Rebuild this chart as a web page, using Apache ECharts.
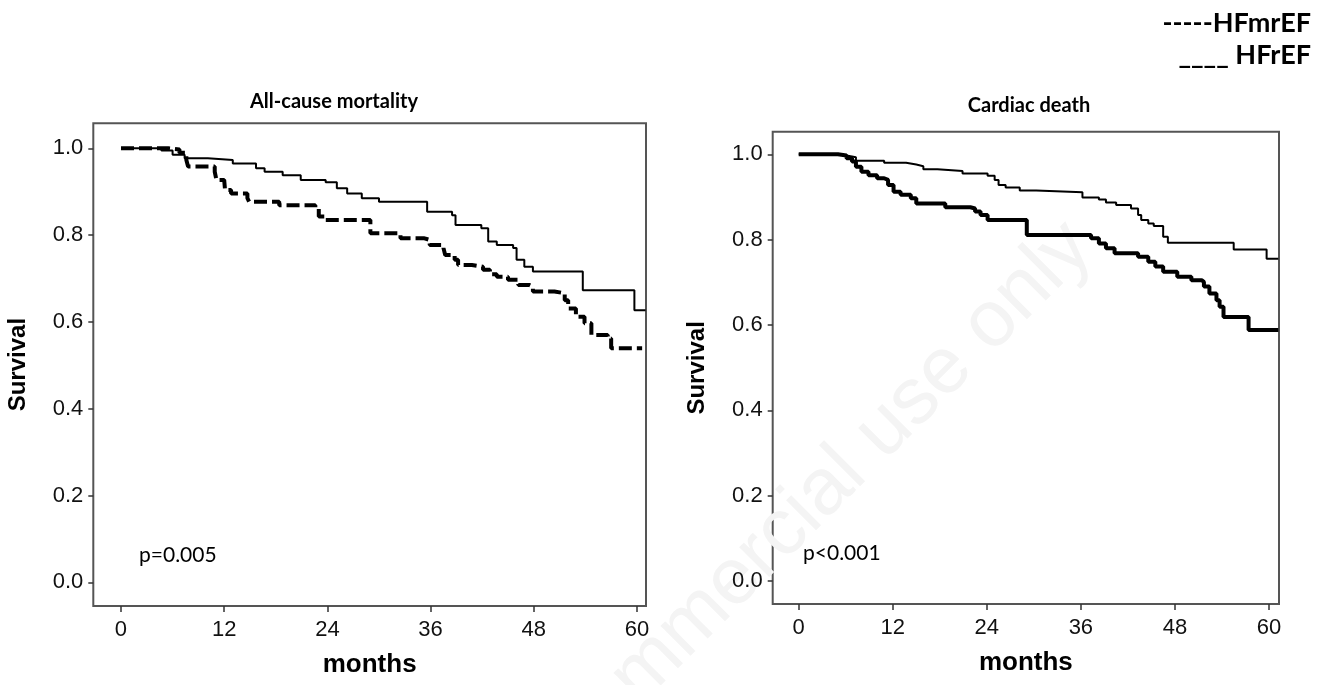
<!DOCTYPE html>
<html><head><meta charset="utf-8">
<script src="https://cdn.jsdelivr.net/npm/echarts@6/dist/echarts.min.js"></script>
<style>html,body{margin:0;padding:0;background:#fff}#c{width:1327px;height:685px}</style>
</head><body><div id="c"></div>
<script>
// ---- data (months, survival) ----
const monthTicks = [0, 12, 24, 36, 48, 60];
const survivalTicks = [0, 0.2, 0.4, 0.6, 0.8, 1.0];

// All-cause mortality, solid thin (upper)
const allCauseSolid = [[0,1.0],[4.7,0.995],[6.0,0.985],[7.4,0.977],[10.1,0.973],[13.0,0.965],[15.7,0.954],[16.7,0.946],[18.8,0.938],[20.9,0.927],[23.8,0.922],[25.1,0.908],[26.3,0.896],[28.0,0.885],[30.0,0.877],[35.6,0.854],[38.5,0.846],[38.9,0.823],[41.9,0.816],[42.7,0.785],[43.7,0.777],[45.6,0.770],[46.0,0.743],[46.9,0.727],[47.9,0.716],[53.7,0.673],[59.7,0.627],[61.0,0.627]];
// All-cause mortality, dashed thick (lower)
const allCauseDashed = [[0,1.0],[5.5,0.997],[6.8,0.990],[7.6,0.973],[7.8,0.958],[10.9,0.946],[11.1,0.927],[12.0,0.923],[12.1,0.904],[12.8,0.896],[14.7,0.885],[14.9,0.877],[18.4,0.869],[22.6,0.862],[23.0,0.843],[23.8,0.835],[29.0,0.804],[32.5,0.793],[35.2,0.789],[35.9,0.777],[37.5,0.770],[37.7,0.754],[38.8,0.743],[39.2,0.731],[40.8,0.727],[42.1,0.720],[42.9,0.710],[43.7,0.704],[45.0,0.697],[46.2,0.685],[47.5,0.681],[47.9,0.670],[50.4,0.666],[51.6,0.650],[52.0,0.631],[52.9,0.612],[53.9,0.597],[54.7,0.570],[56.6,0.562],[57.0,0.539],[60.6,0.539]];
// Cardiac death, thin (upper)
const cardiacThin = [[0,1.0],[5.0,0.997],[6.1,0.993],[7.3,0.985],[10.9,0.980],[13.7,0.976],[15.0,0.972],[15.9,0.965],[17.7,0.961],[20.9,0.955],[24.1,0.950],[25.0,0.940],[25.5,0.928],[26.4,0.922],[28.2,0.915],[30.3,0.911],[36.2,0.899],[38.3,0.894],[39.2,0.887],[40.5,0.881],[42.4,0.873],[43.3,0.858],[43.7,0.846],[44.6,0.838],[45.3,0.832],[46.5,0.807],[47.1,0.793],[55.5,0.777],[59.7,0.755],[61.2,0.755]];
// Cardiac death, thick (lower)
const cardiacThick = [[0,1.0],[5.0,0.997],[6.1,0.991],[6.8,0.983],[7.3,0.971],[8.0,0.959],[8.9,0.951],[10.0,0.944],[10.9,0.940],[11.4,0.928],[12.1,0.912],[13.0,0.905],[14.3,0.897],[15.0,0.885],[18.7,0.876],[21.9,0.873],[22.5,0.866],[23.2,0.858],[24.1,0.846],[29.1,0.811],[37.3,0.803],[38.3,0.791],[39.2,0.780],[40.3,0.768],[43.3,0.760],[44.6,0.748],[45.5,0.737],[46.5,0.725],[48.3,0.713],[50.1,0.705],[51.4,0.701],[51.7,0.690],[52.4,0.674],[53.3,0.658],[53.7,0.643],[54.2,0.619],[57.4,0.588],[61.2,0.588]];

const panelTitles = ['All-cause mortality', 'Cardiac death'];
const pValues = ['p=0.005', 'p<0.001'];
const legendLabels = ['-----HFmrEF', '____ HFrEF'];

const chart = echarts.init(document.getElementById('c'), null, {renderer: 'canvas'});
const axisFont = 'Liberation Sans, Arial, sans-serif';
const calFont = 'Lato, Open Sans, sans-serif';

function xAx(idx, min, max) {
  return {
    type: 'value', gridIndex: idx, min: min, max: max,
    name: 'months', nameLocation: 'middle', nameGap: 46,
    nameTextStyle: {fontFamily: axisFont, fontWeight: 'bold', fontSize: 26, color: '#000'},
    axisLine: {show: false, onZero: false},
    axisTick: {show: true, inside: false, length: 6, customValues: monthTicks, lineStyle: {color: '#333', width: 1.5}},
    axisLabel: {customValues: monthTicks, margin: 13, fontFamily: axisFont, fontSize: 22, color: '#111'},
    splitLine: {show: false}
  };
}
function yAx(idx, min, max, gap) {
  return {
    type: 'value', gridIndex: idx, min: min, max: max,
    name: 'Survival', nameLocation: 'middle', nameGap: gap, nameRotate: 90,
    nameTextStyle: {fontFamily: axisFont, fontWeight: 'bold', fontSize: 24, color: '#000'},
    axisLine: {show: false, onZero: false},
    axisTick: {show: true, inside: false, length: 5, customValues: survivalTicks, lineStyle: {color: '#333', width: 1.5}},
    axisLabel: {customValues: survivalTicks, margin: 10, fontFamily: axisFont, fontSize: 22, color: '#111',
      formatter: v => v.toFixed(1)},
    splitLine: {show: false}
  };
}
function txt(text, x, y, font, align) {
  return {type: 'text', x: x, y: y, z: 10, style: {text: text, font: font, fill: '#000', align: align || 'center', verticalAlign: 'middle'}};
}

const option = {
  animation: false,
  backgroundColor: '#fff',
  grid: [
    {left: 93.3, top: 123.3, width: 552.7, height: 482.7, show: true, borderColor: '#555', borderWidth: 2, containLabel: false},
    {left: 772.7, top: 131.7, width: 506.3, height: 472.3, show: true, borderColor: '#555', borderWidth: 2, containLabel: false}
  ],
  xAxis: [xAx(0, -3.22, 61.05), xAx(1, -3.32, 61.28)],
  yAxis: [yAx(0, -0.0546, 1.0576, 63), yAx(1, -0.0539, 1.053, 63)],
  graphic: [
    {type: 'text', x: 715, y: 600, rotation: Math.PI / 4, z: 0, silent: true,
      style: {text: 'For non-commercial use only', font: '80px Liberation Sans, Arial, sans-serif', fill: '#f4f4f4', align: 'center', verticalAlign: 'middle'}},
    txt(panelTitles[0], 334, 102, 'bold 20px ' + calFont),
    txt(panelTitles[1], 1029, 106, 'bold 20px ' + calFont),
    txt(legendLabels[0], 1311, 23, 'bold 27px ' + calFont, 'right'),
    txt(legendLabels[1], 1311, 55, 'bold 27px ' + calFont, 'right'),
    txt(pValues[0], 139, 555, '21px ' + calFont, 'left'),
    txt(pValues[1], 803, 553, '21px ' + calFont, 'left')
  ],
  series: [
    {name: 'HFrEF', type: 'line', step: 'end', xAxisIndex: 0, yAxisIndex: 0, data: allCauseSolid, showSymbol: false, symbol: 'none',
      lineStyle: {color: '#000', width: 2}},
    {name: 'HFmrEF', type: 'line', step: 'end', xAxisIndex: 0, yAxisIndex: 0, data: allCauseDashed, showSymbol: false, symbol: 'none',
      lineStyle: {color: '#000', width: 4, type: [13, 5]}},
    {name: 'HFmrEF', type: 'line', step: 'end', xAxisIndex: 1, yAxisIndex: 1, data: cardiacThin, showSymbol: false, symbol: 'none',
      lineStyle: {color: '#000', width: 2}},
    {name: 'HFrEF', type: 'line', step: 'end', xAxisIndex: 1, yAxisIndex: 1, data: cardiacThick, showSymbol: false, symbol: 'none',
      lineStyle: {color: '#000', width: 4}}
  ]
};
chart.setOption(option);
</script>
</body></html>
